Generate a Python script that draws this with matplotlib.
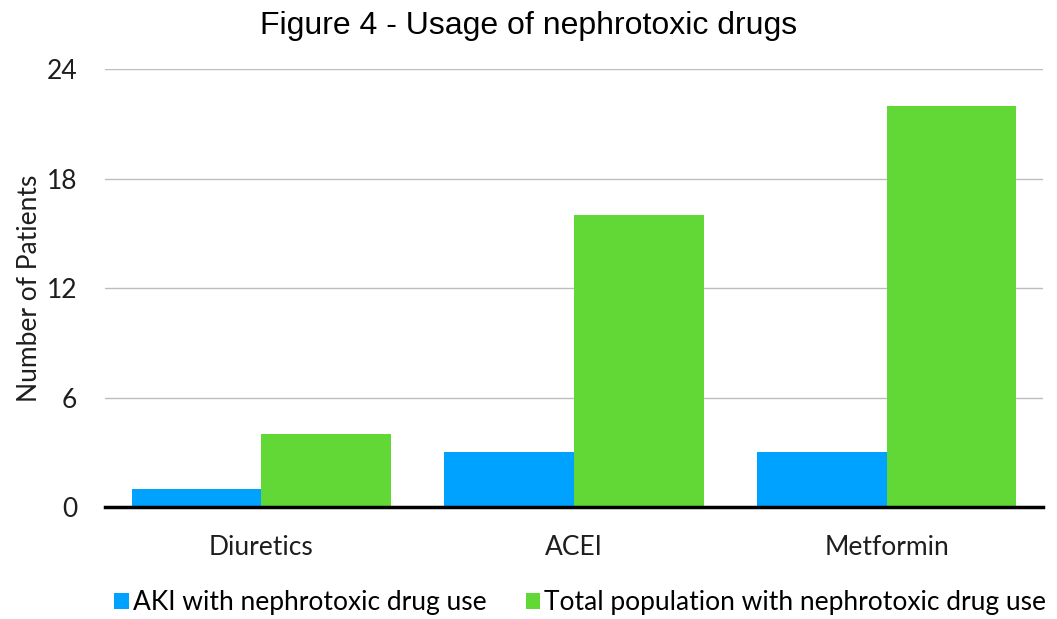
import numpy as np
import matplotlib.pyplot as plt

# Drug categories and patient counts
categories = ['Diuretics', 'ACEI', 'Metformin']
aki_counts = [1, 3, 3]
total_counts = [4, 16, 22]
series_names = ['AKI with nephrotoxic drug use', 'Total population with nephrotoxic drug use']
y_ticks = [0, 6, 12, 18, 24]

blue = '#00A2FF'
green = '#61D836'
body_font = ['Lato', 'DejaVu Sans']
text_color = '#1E1E1E'

fig = plt.figure(figsize=(10.57, 6.19), dpi=100)
ax = fig.add_axes([0.0993, 0.1809, 0.8875, 0.7076])

x = np.arange(len(categories))
w = 0.415
ax.bar(x - w / 2, aki_counts, width=w, color=blue, label=series_names[0], zorder=3)
ax.bar(x + w / 2, total_counts, width=w, color=green, label=series_names[1], zorder=3)

ax.set_xlim(-0.5, len(categories) - 0.5)
ax.set_ylim(0, 24)
ax.set_yticks(y_ticks)
ax.set_yticklabels([str(t) for t in y_ticks], fontfamily=body_font, fontsize=19, color=text_color)
ax.set_xticks(x)
ax.set_xticklabels(categories, fontfamily=body_font, fontsize=19, color=text_color)
ax.tick_params(axis='both', length=0)
ax.tick_params(axis='y', pad=20)
ax.tick_params(axis='x', pad=20)

ax.grid(axis='y', color='#BDBDBD', linewidth=1, zorder=0)
for side in ['top', 'right', 'left']:
    ax.spines[side].set_visible(False)
ax.spines['bottom'].set_color('black')
ax.spines['bottom'].set_linewidth(2.5)
ax.spines['bottom'].set_zorder(4)

ax.set_ylabel('Number of Patients', fontfamily=body_font, fontsize=19, color=text_color, labelpad=3)

fig.suptitle('Figure 4 - Usage of nephrotoxic drugs', fontfamily='Liberation Sans',
             fontsize=23, y=0.983)

fig.legend(loc='lower center', bbox_to_anchor=(0.549, -0.032), ncol=2, frameon=False,
           prop={'family': body_font, 'size': 19}, handlelength=0.55, handleheight=0.55,
           handletextpad=0.15, columnspacing=1.5)

fig.savefig('out.png', dpi=100)
plt.close(fig)
